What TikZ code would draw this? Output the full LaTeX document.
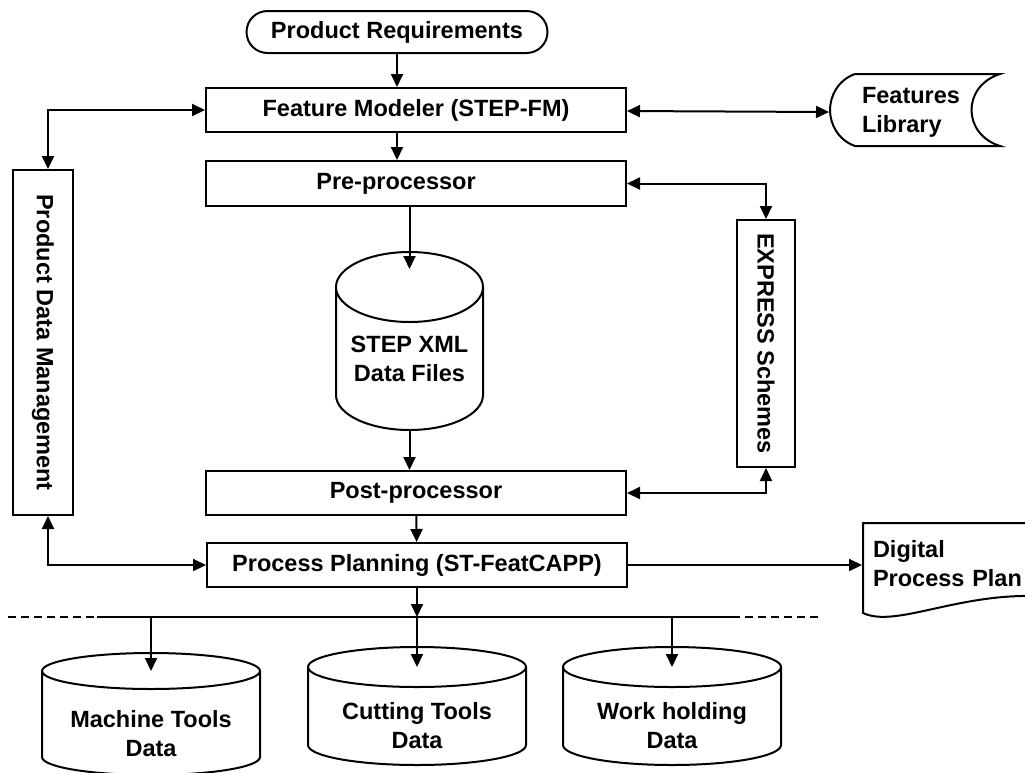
\documentclass[tikz,border=0pt]{standalone}
\usepackage{fontspec}
\setmainfont{Liberation Sans}
\usepackage{tikz}
\usetikzlibrary{arrows.meta}
\usetikzlibrary{positioning}
\usetikzlibrary{shapes.geometric,shapes.misc}
\usetikzlibrary{calc}
\tikzstyle{block}=[draw,rectangle,minimum width=420pt,minimum height=44pt,inner sep=2pt]
\tikzstyle{drum}=[draw,cylinder,shape border rotate=90,aspect=0.5,anchor=shape center,inner sep=0pt]
\newcommand{\drumtext}[2][200pt]{\parbox[c][40pt][c]{#1}{\centering #2}}

\begin{document}
\begin{tikzpicture}[x=1pt,y=-1pt,line width=2pt,>={Triangle[length=13pt,width=12pt]},
  font=\fontsize{23.5pt}{29pt}\selectfont\bfseries]
\tikzstyle{pill}=[draw,rounded rectangle,minimum width=305pt,minimum height=42pt,inner sep=2pt]
\tikzstyle{side}=[draw,rectangle,inner sep=0pt]
\useasboundingbox (0,0) rectangle (1025,772);

\node [pill] (req) at (397,32) {Product Requirements};
\node [block] (fm) at (416,110) {Feature Modeler (STEP-FM)};
\node [block,minimum height=45pt] (pre) at (416,183.5) {Pre-processor\hspace*{40pt}};
\node [drum,minimum width=147pt,minimum height=178pt] (xml) at (409.5,341) {\drumtext[140pt]{STEP XML\\Data Files}};
\node [block] (post) at (416,493) {Post-processor};
\node [block] (pp) at (417,565) {Process Planning (ST-FeatCAPP)};

\node [side,minimum width=60pt,minimum height=345pt] (pdm) at (43,342.5) {\rotatebox{-90}{Product Data Management}};
\node [side,minimum width=58pt,minimum height=247pt] (exp) at (766,343.5) {\rotatebox{-90}{EXPRESS Schemes}};

% features library
\node [minimum width=170pt,minimum height=72pt,text width=106pt,inner xsep=32pt,align=left] (lib) at (915,112) {Features\\Library};
\draw (855,74) -- (1000,74) .. controls (962,86) and (962,134) .. (1000,146) -- (855,146)
  .. controls (838,140) and (830,124) .. (830,110) .. controls (830,96) and (838,80) .. (855,74);

% digital process plan
\node [minimum width=190pt,minimum height=90pt,text width=170pt,inner xsep=10pt,align=left] (dpp) at (958,564) {Digital\\Process Plan};
\draw (1035,523) -- (863,523) -- (863,613) .. controls (895,628) and (955,594) .. (1035,596);

% resource data
\coordinate (dl) at (8,617);
\coordinate (bl) at (97,617);
\coordinate (br) at (732,617);
\coordinate (dr) at (820,617);
\draw [dash pattern=on 8pt off 5pt] (dl) -- (bl);
\draw (bl) -- (br);
\draw [dash pattern=on 8pt off 5pt] (br) -- (dr);

\foreach \n/\cx/\yt/\yb/\ry/\txt in {mt/151/653/775/18/{Machine Tools\\Data},
    ct/417/647/765/20/{Cutting Tools\\Data}, wh/672/647/765/20/{Work holding\\Data}} {
  \draw (\cx-109,\yt+\ry) -- (\cx-109,\yb-\ry) arc [start angle=180,end angle=0,x radius=109,y radius=\ry] -- (\cx+109,\yt+\ry);
  \draw (\cx,\yt+\ry) ellipse [x radius=109,y radius=\ry];
  \coordinate (\n top) at (\cx,\yt+\ry);
  \node [align=center] (\n) at (\cx,{(\yt+\yb)/2+20}) {\txt};
  \draw [->] (\n top |- bl) -- (\n top);
}

% main flow
\draw [->] (req) -- (req |- fm.north);
\draw [->] (fm.south -| req) -- (pre.north -| req);
\draw [->] (pre.south -| xml) -- ($(xml.north)+(0,18)$);
\draw [->] (xml.south) -- (post.north -| xml);
\draw [->] (post) -- (pp);
\draw [->] (pp) -- (pp |- bl);

% side links
\draw [<->] (fm) -- (lib.west);
\draw [<->] (fm.west) -| ([xshift=5pt]pdm.north);
\draw [<->] ([xshift=5pt]pdm.south) |- (pp.west);
\draw [<->] (pre.east) -| (exp.north);
\draw [<->] (exp.south) |- (post.east);
\draw [->] (pp.east) -- (pp.east -| dpp.west);
\end{tikzpicture}
\end{document}
